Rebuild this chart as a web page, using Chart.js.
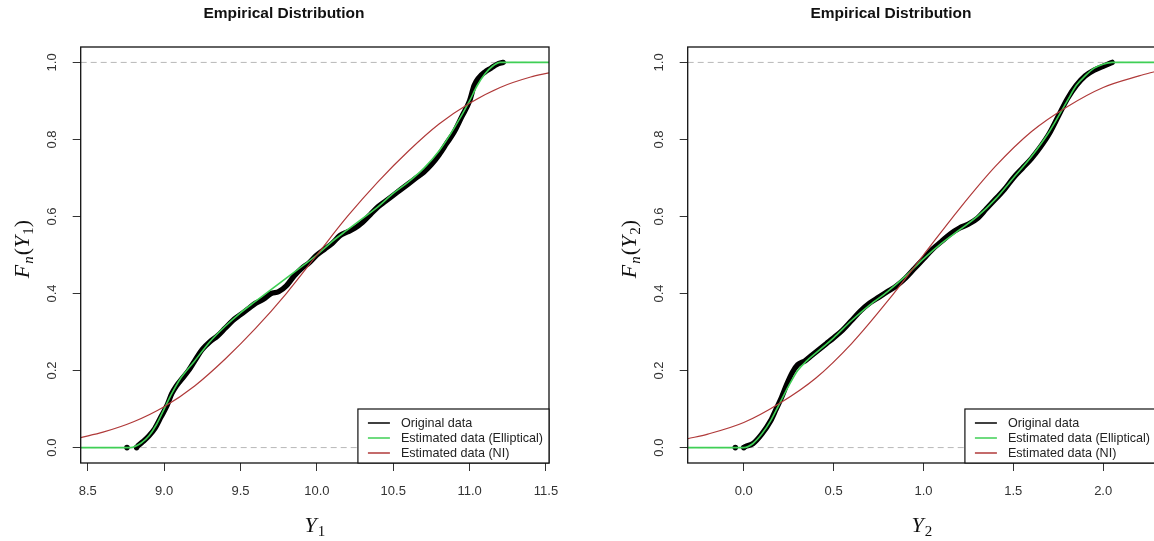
<!DOCTYPE html>
<html>
<head>
<meta charset="utf-8">
<script src="https://cdn.jsdelivr.net/npm/chart.js@4.4.1/dist/chart.umd.min.js"></script>
<style>
  html, body { margin: 0; padding: 0; background: #fff; overflow: hidden; width: 1154px; height: 541px; }
  .panel { position: absolute; top: 0; width: 577px; height: 541px; }
</style>
</head>
<body>
<div class="panel" style="left:0"><canvas id="c1" width="577" height="541"></canvas></div>
<div class="panel" style="left:607px"><canvas id="c2" width="577" height="541"></canvas></div>
<script>
// ---- Panel 1: Y1 ----
const y1Ticks = [8.5, 9.0, 9.5, 10.0, 10.5, 11.0, 11.5];
const y1Range = [8.454, 11.52];
// empirical CDF of the observed sample
const y1Original = [
  [8.83,0.005],[8.86,0.015],[8.9,0.03],[8.94,0.05],[8.98,0.08],[9.02,0.11],[9.05,0.14],[9.08,0.16],
  [9.12,0.18],[9.16,0.2],[9.2,0.225],[9.25,0.255],[9.3,0.275],[9.35,0.29],[9.4,0.31],[9.45,0.33],
  [9.5,0.345],[9.55,0.36],[9.6,0.375],[9.65,0.385],[9.7,0.4],[9.75,0.405],[9.8,0.42],[9.85,0.445],
  [9.9,0.465],[9.95,0.48],[10.0,0.5],[10.05,0.515],[10.1,0.53],[10.15,0.55],[10.2,0.56],[10.25,0.57],
  [10.3,0.585],[10.35,0.605],[10.4,0.625],[10.45,0.64],[10.5,0.655],[10.55,0.67],[10.6,0.685],[10.65,0.7],
  [10.7,0.715],[10.75,0.735],[10.8,0.76],[10.85,0.79],[10.9,0.82],[10.95,0.86],[11.0,0.9],[11.03,0.94],
  [11.06,0.96],[11.1,0.975],[11.14,0.985],[11.18,0.995],[11.22,1.0]
];
const y1OriginalStart = [[8.757,0],[8.82,0]];
const y1Elliptical = [
  [8.454,0],[8.78,0],[8.85,0.012],[8.9,0.03],[8.95,0.06],[9.0,0.1],[9.05,0.14],[9.1,0.175],[9.2,0.225],
  [9.3,0.275],[9.4,0.315],[9.5,0.35],[9.6,0.38],[9.7,0.41],[9.8,0.44],[9.9,0.47],[10.0,0.5],[10.1,0.535],
  [10.2,0.565],[10.3,0.595],[10.4,0.625],[10.5,0.66],[10.6,0.69],[10.7,0.725],[10.8,0.77],[10.9,0.83],
  [11.0,0.9],[11.05,0.94],[11.1,0.97],[11.15,0.99],[11.2,1.0],[11.52,1.0]
];
const y1NI = [
  [8.454,0.026],[8.6,0.04],[8.8,0.067],[9.0,0.106],[9.2,0.16],[9.4,0.23],[9.6,0.31],[9.8,0.4],[10.0,0.5],
  [10.2,0.6],[10.4,0.69],[10.6,0.77],[10.8,0.84],[11.0,0.894],[11.2,0.935],[11.4,0.962],[11.52,0.973]
];

// ---- Panel 2: Y2 ----
const y2Ticks = [0.0, 0.5, 1.0, 1.5, 2.0];
const y2Range = [-0.312, 2.294];
const y2Original = [
  [0.01,0.003],[0.05,0.01],[0.1,0.035],[0.15,0.07],[0.18,0.1],[0.21,0.13],[0.24,0.165],[0.27,0.195],
  [0.3,0.215],[0.34,0.225],[0.38,0.24],[0.42,0.255],[0.46,0.27],[0.5,0.285],[0.55,0.305],[0.6,0.33],
  [0.65,0.355],[0.7,0.375],[0.75,0.39],[0.8,0.405],[0.85,0.42],[0.9,0.44],[0.95,0.465],[1.0,0.49],
  [1.05,0.515],[1.1,0.535],[1.15,0.555],[1.2,0.57],[1.25,0.58],[1.3,0.595],[1.35,0.62],[1.4,0.645],
  [1.45,0.67],[1.5,0.7],[1.55,0.725],[1.6,0.75],[1.65,0.78],[1.7,0.815],[1.75,0.86],[1.8,0.905],
  [1.85,0.94],[1.9,0.965],[1.95,0.98],[2.0,0.99],[2.05,1.0]
];
const y2OriginalStart = [[-0.047,0],[0.0,0]];
const y2Elliptical = [
  [-0.312,0],[0.0,0],[0.05,0.01],[0.1,0.035],[0.15,0.07],[0.2,0.115],[0.25,0.16],[0.3,0.2],[0.35,0.225],
  [0.4,0.245],[0.5,0.285],[0.6,0.33],[0.7,0.37],[0.8,0.405],[0.9,0.445],[1.0,0.49],[1.1,0.53],[1.2,0.565],
  [1.3,0.6],[1.4,0.645],[1.5,0.7],[1.6,0.755],[1.7,0.82],[1.8,0.9],[1.85,0.94],[1.9,0.965],[1.95,0.985],
  [2.0,0.995],[2.05,1.0],[2.294,1.0]
];
const y2NI = [
  [-0.312,0.023],[-0.2,0.035],[0.0,0.065],[0.2,0.115],[0.4,0.18],[0.6,0.27],[0.8,0.38],[1.0,0.5],
  [1.2,0.62],[1.4,0.73],[1.6,0.82],[1.8,0.885],[2.0,0.935],[2.2,0.965],[2.294,0.977]
];

// shared y axis
const fTicks = [0.0, 0.2, 0.4, 0.6, 0.8, 1.0];
const fRange = [-0.04, 1.04];
const seriesNames = ['Original data', 'Estimated data (Elliptical)', 'Estimated data (NI)'];

const BLACK = '#000000', GREEN = '#3fcf55', RED = '#b03a3a', DASH = '#b8b8b8';
const SANS = '"Liberation Sans", Arial, sans-serif';
const SERIF = '"Liberation Serif", "Times New Roman", serif';

const pts = arr => arr.map(([x, y]) => ({x, y}));

// full frame round the plotting region
const framePlugin = {
  id: 'frame',
  afterDatasetsDraw(chart) {
    const a = chart.chartArea, ctx = chart.ctx;
    ctx.save();
    ctx.strokeStyle = '#111';
    ctx.lineWidth = 1.3;
    ctx.strokeRect(a.left, a.top, a.right - a.left, a.bottom - a.top);
    ctx.restore();
  }
};

// boxed legend in the bottom-right corner of the plot
const boxLegend = {
  id: 'boxLegend',
  afterDraw(chart) {
    const ctx = chart.ctx, a = chart.chartArea;
    const items = chart.data.datasets.filter(d => d.legendRow !== undefined)
      .sort((p, q) => p.legendRow - q.legendRow);
    ctx.save();
    ctx.font = '12.6px ' + SANS;
    const tw = Math.max(...items.map(d => ctx.measureText(d.label).width));
    const w = 43 + tw + 6, h = 54;
    const left = a.right - w, top = a.bottom - h;
    ctx.fillStyle = '#fff';
    ctx.fillRect(left, top, w, h);
    ctx.strokeStyle = '#111';
    ctx.lineWidth = 1.2;
    ctx.strokeRect(left, top, w, h);
    items.forEach((d, i) => {
      const y = top + 14 + i * 15;
      ctx.strokeStyle = d.borderColor;
      ctx.lineWidth = 1.5;
      ctx.beginPath();
      ctx.moveTo(left + 10, y);
      ctx.lineTo(left + 32, y);
      ctx.stroke();
      ctx.fillStyle = '#222';
      ctx.textBaseline = 'middle';
      ctx.fillText(d.label, left + 43, y + 0.5);
    });
    ctx.restore();
  }
};

// axis titles written as math: italic symbols with subscripts
function drawMath(ctx, runs, cx, cy, rot) {
  ctx.save();
  ctx.translate(cx, cy);
  ctx.rotate(rot);
  let total = 0;
  const m = runs.map(r => {
    const f = (r.it ? 'italic ' : '') + (r.sub ? 15 : 22) + 'px ' + SERIF;
    ctx.font = f;
    const w = ctx.measureText(r.t).width + (r.gap || 0);
    total += w;
    return {f, w};
  });
  let x = -total / 2;
  ctx.fillStyle = '#111';
  ctx.textBaseline = 'alphabetic';
  runs.forEach((r, i) => {
    ctx.font = m[i].f;
    ctx.fillText(r.t, x, r.sub ? 4 : 0);
    x += m[i].w;
  });
  ctx.restore();
}
const mathTitles = {
  id: 'mathTitles',
  afterDraw(chart, args, opts) {
    const xs = chart.scales.x, ys = chart.scales.y;
    drawMath(chart.ctx, opts.xRuns, (xs.left + xs.right) / 2, 532, 0);
    drawMath(chart.ctx, opts.yRuns, 29, (ys.top + ys.bottom) / 2 - 6, -Math.PI / 2);
  }
};

function makePanel(id, p) {
  const [xmin, xmax] = p.range;
  return new Chart(document.getElementById(id), {
    type: 'scatter',
    data: {
      datasets: [
        { label: seriesNames[2], legendRow: 2, data: pts(p.ni), showLine: true, borderColor: RED,
          borderWidth: 1.2, pointRadius: 0, cubicInterpolationMode: 'monotone', order: 1 },
        { label: seriesNames[1], legendRow: 1, data: pts(p.ell), showLine: true, borderColor: GREEN,
          borderWidth: 1.6, pointRadius: 0, cubicInterpolationMode: 'monotone', order: 2 },
        { label: seriesNames[0], legendRow: 0, data: pts(p.orig), showLine: true, borderColor: BLACK,
          borderWidth: 5.4, borderJoinStyle: 'round', borderCapStyle: 'round', pointRadius: 0,
          cubicInterpolationMode: 'monotone', order: 3 },
        { label: seriesNames[0], data: pts(p.start), showLine: false, pointRadius: 2.8,
          backgroundColor: BLACK, borderWidth: 0, order: 3 },
        { label: 'F = 0', data: [{x: xmin, y: 0}, {x: xmax, y: 0}], showLine: true, borderColor: DASH,
          borderWidth: 1, borderDash: [6, 4], pointRadius: 0, order: 5 },
        { label: 'F = 1', data: [{x: xmin, y: 1}, {x: xmax, y: 1}], showLine: true, borderColor: DASH,
          borderWidth: 1, borderDash: [6, 4], pointRadius: 0, order: 5 }
      ]
    },
    options: {
      responsive: false,
      animation: false,
      devicePixelRatio: 1,
      layout: { padding: { left: 19, right: 28, top: 0, bottom: 0 } },
      plugins: {
        legend: { display: false },
        tooltip: { enabled: false },
        title: {
          display: true, text: 'Empirical Distribution', color: '#111',
          font: { family: SANS, size: 15.5, weight: 'bold' },
          padding: { top: 4.7, bottom: 23.7 }
        },
        mathTitles: { xRuns: p.xRuns, yRuns: p.yRuns }
      },
      scales: {
        x: {
          type: 'linear', min: xmin, max: xmax,
          afterBuildTicks: s => { s.ticks = p.ticks.map(v => ({value: v})); },
          afterFit: s => { s.height = 78; },
          ticks: { callback: v => Number(v).toFixed(1), autoSkip: false, maxRotation: 0,
                   padding: 13, color: '#333', font: { family: SANS, size: 13 } },
          grid: { drawOnChartArea: false, drawTicks: true, tickLength: 8, color: '#333', lineWidth: 1 },
          border: { display: false },
          title: { display: false }
        },
        y: {
          type: 'linear', min: fRange[0], max: fRange[1],
          afterBuildTicks: s => { s.ticks = fTicks.map(v => ({value: v})); },
          afterFit: s => { s.width = 61.7; },
          ticks: { callback: v => Number(v).toFixed(1), autoSkip: false, minRotation: 90, maxRotation: 90,
                   crossAlign: 'center', padding: 11, color: '#333', font: { family: SANS, size: 13 } },
          grid: { drawOnChartArea: false, drawTicks: true, tickLength: 8, color: '#333', lineWidth: 1 },
          border: { display: false },
          title: { display: false }
        }
      }
    },
    plugins: [framePlugin, boxLegend, mathTitles]
  });
}

makePanel('c1', {
  range: y1Range, ticks: y1Ticks, orig: y1Original, start: y1OriginalStart, ell: y1Elliptical, ni: y1NI,
  xRuns: [{t: 'Y', it: true, gap: 1}, {t: '1', sub: true}],
  yRuns: [{t: 'F', it: true, gap: 1}, {t: 'n', it: true, sub: true, gap: 1}, {t: '('}, {t: 'Y', it: true, gap: 1},
          {t: '1', sub: true}, {t: ')'}]
});
makePanel('c2', {
  range: y2Range, ticks: y2Ticks, orig: y2Original, start: y2OriginalStart, ell: y2Elliptical, ni: y2NI,
  xRuns: [{t: 'Y', it: true, gap: 1}, {t: '2', sub: true}],
  yRuns: [{t: 'F', it: true, gap: 1}, {t: 'n', it: true, sub: true, gap: 1}, {t: '('}, {t: 'Y', it: true, gap: 1},
          {t: '2', sub: true}, {t: ')'}]
});
</script>
</body>
</html>
